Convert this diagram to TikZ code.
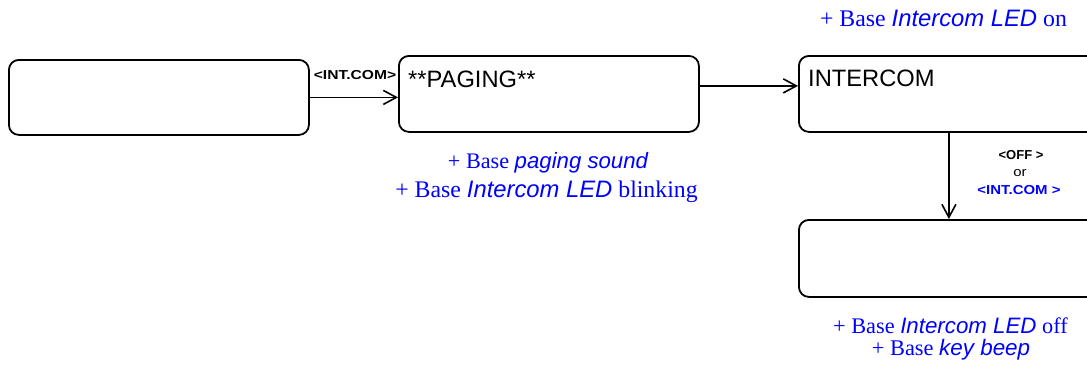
\documentclass[tikz,border=0pt]{standalone}
\usepackage{fontspec}
\setmainfont{Liberation Serif}
\setsansfont{Liberation Sans}
\usetikzlibrary{arrows.meta}
% italic sans inside the serif notes
\newcommand\sfit[1]{{\sffamily\itshape #1}}
\begin{document}
\begin{tikzpicture}[x=1pt,y=-1pt,
  state/.style={draw, line width=1.8pt, rounded corners=10pt, minimum width=300pt,
    minimum height=76pt, inner sep=0pt, anchor=north west},
  flow/.style={line width=1.6pt, -{Straight Barb[length=13pt,width=14pt,line width=1.6pt]}},
  title/.style={anchor=base west, inner sep=0pt, font=\sffamily\fontsize{23.7}{28}\selectfont},
  note/.style={anchor=base, inner sep=0pt, text=blue},
  key/.style={anchor=base, inner sep=0pt, font=\sffamily\bfseries\fontsize{13}{15}\selectfont}]
\useasboundingbox (0,0) rectangle (1087,365);
\clip (0,0) rectangle (1087,365);

% display states
\node[state, minimum height=75pt] (idle) at (8,59) {};
\node[state] (paging) at (398,55) {};
\node[state] (icom) at (798,55) {};
\node[state, minimum height=77pt] (ended) at (798,219) {};

\node[title] (pagingT) at ([shift={(10,32)}]paging.north west) {**PAGING**};
\node[title] (icomT) at ([shift={(10,31)}]icom.north west) {INTERCOM};

% transitions
\draw[flow] (idle.east) -- (idle.east -| paging.west);
\draw[flow] ([yshift=8pt]paging.east) -- ([yshift=8pt]paging.east -| icom.west);
\draw[flow] (icom.south) -- (ended.north);

% key labels
\node[key] (k1) at (355,79) {\scalebox{1.2}[1]{<INT.COM>}};
\node[key] (k2) at (1021,159) {<OFF >};
\node[key, font=\sffamily\fontsize{13}{15}\selectfont] (k3) at (1020,176) {\scalebox{1.15}[1]{or}};
\node[key, text=blue] (k4) at (1019,194) {\scalebox{1.15}[1]{<INT.COM >}};

% base station notes
\node[note, font=\fontsize{23.8}{28}\selectfont] (onN) at (943.5,26) {+ Base \sfit{Intercom LED} on};
\node[note, font=\fontsize{22.2}{26}\selectfont] (pg1) at (548,168) {+ Base \sfit{paging sound}};
\node[note, font=\fontsize{23.8}{28}\selectfont] (pg2) at (546.5,197) {+ Base \sfit{Intercom LED} blinking};
\node[note, font=\fontsize{22.3}{26}\selectfont] (off1) at (950.5,333) {+ Base \sfit{Intercom LED} off};
\node[note, font=\fontsize{22.4}{26}\selectfont] (off2) at (951,355) {+ Base \sfit{key beep}};
\end{tikzpicture}
\end{document}
